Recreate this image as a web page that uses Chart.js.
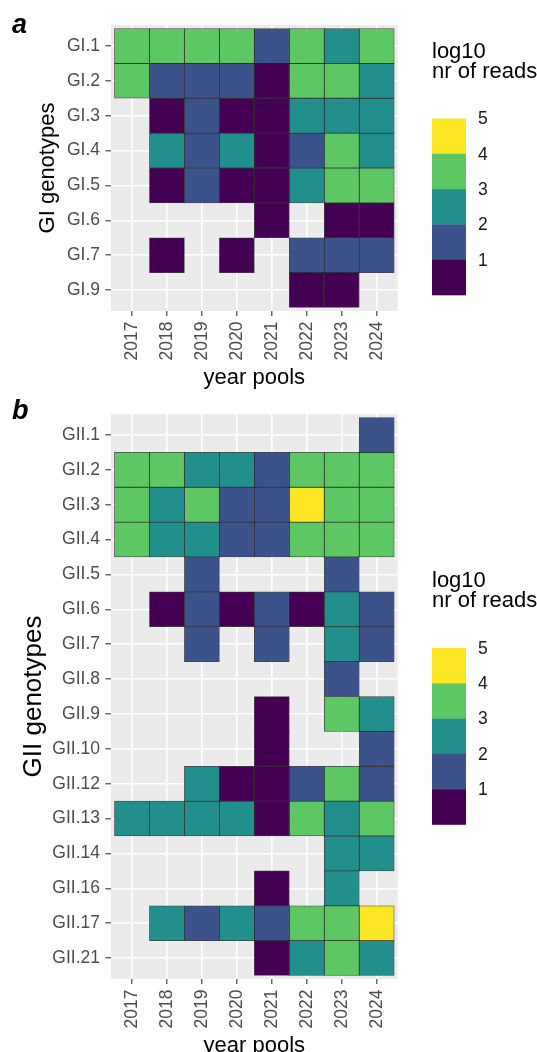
<!DOCTYPE html>
<html><head><meta charset="utf-8">
<script src="https://cdn.jsdelivr.net/npm/chart.js@4/dist/chart.umd.min.js"></script>
<style>
html,body{margin:0;padding:0;background:#fff;width:537px;height:1052px;overflow:hidden;position:relative}
canvas{position:absolute;left:0}
#ca{top:0}
#cb{top:398px}
</style></head><body>
<canvas id="ca" width="537" height="411"></canvas>
<canvas id="cb" width="537" height="681"></canvas>
<script>
// ---------- categories ----------
const years = ['2017','2018','2019','2020','2021','2022','2023','2024'];
const giGenotypes = ['GI.1','GI.2','GI.3','GI.4','GI.5','GI.6','GI.7','GI.9'];
const giiGenotypes = ['GII.1','GII.2','GII.3','GII.4','GII.5','GII.6','GII.7','GII.8',
  'GII.9','GII.10','GII.12','GII.13','GII.14','GII.16','GII.17','GII.21'];

// ---------- values: log10 nr of reads (estimated from colour bins), null = not detected ----------
// panel a (GI), columns = years
const GI_1 = [3.5,3.5,3.5,3.5,1.5,3.5,2.5,3.5];
const GI_2 = [3.5,1.5,1.5,1.5,0.5,3.5,3.5,2.5];
const GI_3 = [null,0.5,1.5,0.5,0.5,2.5,2.5,2.5];
const GI_4 = [null,2.5,1.5,2.5,0.5,1.5,3.5,2.5];
const GI_5 = [null,0.5,1.5,0.5,0.5,2.5,3.5,3.5];
const GI_6 = [null,null,null,null,0.5,null,0.5,0.5];
const GI_7 = [null,0.5,null,0.5,null,1.5,1.5,1.5];
const GI_9 = [null,null,null,null,null,0.5,0.5,null];
// panel b (GII)
const GII_1  = [null,null,null,null,null,null,null,1.5];
const GII_2  = [3.5,3.5,2.5,2.5,1.5,3.5,3.5,3.5];
const GII_3  = [3.5,2.5,3.5,1.5,1.5,4.5,3.5,3.5];
const GII_4  = [3.5,2.5,2.5,1.5,1.5,3.5,3.5,3.5];
const GII_5  = [null,null,1.5,null,null,null,1.5,null];
const GII_6  = [null,0.5,1.5,0.5,1.5,0.5,2.5,1.5];
const GII_7  = [null,null,1.5,null,1.5,null,2.5,1.5];
const GII_8  = [null,null,null,null,null,null,1.5,null];
const GII_9  = [null,null,null,null,0.5,null,3.5,2.5];
const GII_10 = [null,null,null,null,0.5,null,null,1.5];
const GII_12 = [null,null,2.5,0.5,0.5,1.5,3.5,1.5];
const GII_13 = [2.5,2.5,2.5,2.5,0.5,3.5,2.5,3.5];
const GII_14 = [null,null,null,null,null,null,2.5,2.5];
const GII_16 = [null,null,null,null,0.5,null,2.5,null];
const GII_17 = [null,2.5,1.5,2.5,1.5,3.5,3.5,4.5];
const GII_21 = [null,null,null,null,0.5,2.5,3.5,2.5];

const giRows = [GI_1,GI_2,GI_3,GI_4,GI_5,GI_6,GI_7,GI_9];
const giiRows = [GII_1,GII_2,GII_3,GII_4,GII_5,GII_6,GII_7,GII_8,GII_9,GII_10,GII_12,GII_13,GII_14,GII_16,GII_17,GII_21];

// ---------- colour scale ----------
const legendBreaks = [1,2,3,4,5];
const viridis = ['#440154','#3B528B','#21908C','#5DC863','#FDE725'];
function colorFor(v){
  let k = 0;
  for (const b of legendBreaks.slice(0,4)) if (v >= b) k++;
  return viridis[k];
}

const FONT = "'Liberation Sans', Arial, Helvetica, sans-serif";

function buildDatasets(labels, rows){
  return rows.map((vals, r) => ({
    label: labels[r],
    data: vals.map((v, c) => v == null ? null : {x: c + 1, y: [r + 0.5, r + 1.5], v: v}).filter(d => d),
    backgroundColor: ctx => (ctx.raw && ctx.raw.v != null) ? colorFor(ctx.raw.v) : '#000'
  }));
}

const panelPlugin = {
  id: 'panel',
  beforeDraw(chart){
    const {ctx, chartArea: a} = chart;
    ctx.save();
    ctx.fillStyle = '#EBEBEB';
    ctx.fillRect(a.left, a.top, a.right - a.left, a.bottom - a.top);
    ctx.restore();
  },
  afterDraw(chart, args, o){
    const ctx = chart.ctx;
    ctx.save();
    // panel letter
    ctx.fillStyle = '#000';
    ctx.font = 'italic bold 27px ' + FONT;
    ctx.textBaseline = 'alphabetic';
    ctx.textAlign = 'left';
    ctx.fillText(o.letter, 12, o.letterY);
    // legend title
    ctx.font = '22px ' + FONT;
    ctx.fillText('log10', 432, o.barTop - 61);
    ctx.fillText('nr of reads', 432, o.barTop - 41);
    // colour steps
    const h = 35.3;
    for (let i = 0; i < viridis.length; i++){
      ctx.fillStyle = viridis[viridis.length - 1 - i];
      ctx.fillRect(432, o.barTop + i * h, 34, h + 0.3);
    }
    ctx.fillStyle = '#1A1A1A';
    ctx.font = '17.5px ' + FONT;
    ctx.textBaseline = 'middle';
    const labs = legendBreaks.slice().reverse();
    labs.forEach((b, i) => ctx.fillText(String(b), 478, o.barTop + i * h + 1));
    ctx.restore();
  }
};

function makeConfig(labels, rows, yTitle, p){
  const n = labels.length;
  return {
    type: 'bar',
    data: {datasets: buildDatasets(labels, rows)},
    options: {
      responsive: false, animation: false, devicePixelRatio: 1,
      indexAxis: 'x',
      layout: {padding: {top: p.top, right: 139.3, bottom: 0, left: 0}},
      datasets: {bar: {grouped: false, barPercentage: 1, categoryPercentage: 1,
        borderWidth: 0.8, borderColor: 'rgba(0,0,0,0.72)', borderSkipped: false}},
      plugins: {legend: {display: false}, tooltip: {enabled: false},
        panel: {letter: p.letter, letterY: p.letterY, barTop: p.barTop}},
      scales: {
        x: {
          type: 'linear', min: 0.4, max: years.length + 0.6, bounds: 'data', offset: false,
          afterBuildTicks: s => { s.ticks = years.map((_, i) => ({value: i + 1})); },
          afterFit: s => { s.height = 100; s.paddingLeft = 0; s.paddingRight = 0; },
          ticks: {callback: v => years[Math.round(v) - 1], autoSkip: false,
            minRotation: 90, maxRotation: 90, color: '#4D4D4D',
            font: {family: FONT, size: 17.5}, padding: 5.5},
          grid: {offset: false, color: '#FFFFFF', lineWidth: 1.6, drawTicks: true, tickLength: 5,
            tickColor: '#333333', tickWidth: 1.1},
          border: {display: false},
          title: {display: true, text: 'year pools', color: '#000',
            font: {family: FONT, size: 22}, padding: {top: 0, bottom: 19.8}}
        },
        y: {
          type: 'linear', reverse: true, min: 0.4, max: n + 0.6, bounds: 'data', offset: false,
          afterBuildTicks: s => { s.ticks = labels.map((_, i) => ({value: i + 1})); },
          afterFit: s => { s.width = 111; },
          ticks: {callback: v => labels[Math.round(v) - 1], autoSkip: false,
            color: '#4D4D4D', font: {family: FONT, size: 17.5}, padding: 5.5},
          grid: {offset: false, color: '#FFFFFF', lineWidth: 1.6, drawTicks: true, tickLength: 5.5,
            tickColor: '#333333', tickWidth: 1.1},
          border: {display: false},
          title: {display: true, text: yTitle, color: '#000',
            font: {family: FONT, size: p.ytSize}, padding: {top: p.ytp, bottom: 0}}
        }
      }
    },
    plugins: [panelPlugin]
  };
}

new Chart(document.getElementById('ca'),
  makeConfig(giGenotypes, giRows, 'GI genotypes', {top: 25, letter: 'a', letterY: 33.3, barTop: 118.5, ytp: 34.3, ytSize: 22}));
new Chart(document.getElementById('cb'),
  makeConfig(giiGenotypes, giiRows, 'GII genotypes', {top: 12.5, letter: 'b', letterY: 21, barTop: 250, ytp: 18.1, ytSize: 26}));
</script>
</body></html>
